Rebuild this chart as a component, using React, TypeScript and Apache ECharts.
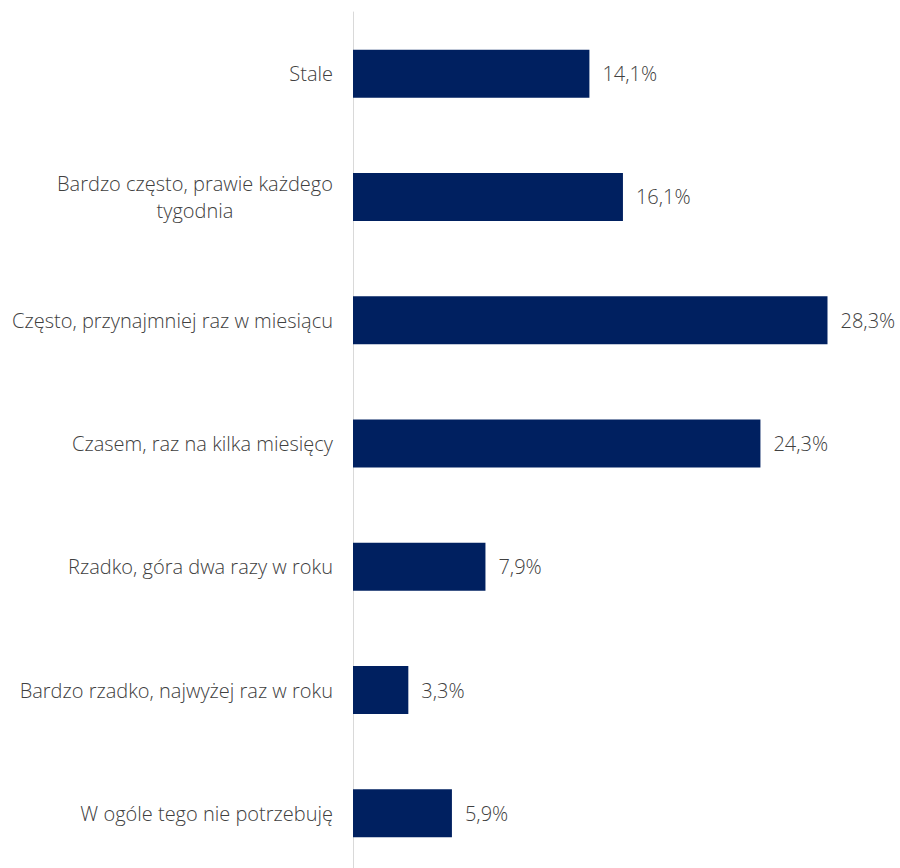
import React, { useEffect, useRef } from "react";
import * as echarts from "echarts";

const categories = [
  "Stale",
  "Bardzo często, prawie każdego\ntygodnia",
  "Często, przynajmniej raz w miesiącu",
  "Czasem, raz na kilka miesięcy",
  "Rzadko, góra dwa razy w roku",
  "Bardzo rzadko, najwyżej raz w roku",
  "W ogóle tego nie potrzebuję",
];
const values = [14.1, 16.1, 28.3, 24.3, 7.9, 3.3, 5.9];

const FONT = "'Open Sans'";

export default function App() {
  const ref = useRef<HTMLDivElement>(null);
  useEffect(() => {
    if (!ref.current) return;
    const chart = echarts.init(ref.current, undefined, { renderer: "svg" });
    chart.setOption({
      animation: false,
      grid: {
        left: 353,
        top: 12,
        width: 503,
        height: 863,
        containLabel: false,
        outerBoundsMode: "none",
      },
      xAxis: {
        type: "value",
        min: 0,
        max: 30,
        show: false,
      },
      yAxis: {
        type: "category",
        inverse: true,
        data: categories,
        axisLine: { show: true, lineStyle: { color: "#d9d9d9", width: 1 } },
        axisTick: { show: false },
        axisLabel: {
          margin: 20,
          color: "#404040",
          fontSize: 20,
          fontWeight: 300,
          fontFamily: FONT,
          lineHeight: 27,
          align: "right",
          formatter: (v: string) =>
            v.indexOf("\n") >= 0
              ? v
                  .split("\n")
                  .map((l) => "{c|" + l + "}")
                  .join("\n")
              : v,
          rich: {
            c: {
              width: 276,
              align: "center",
              color: "#404040",
              fontSize: 20,
              fontWeight: 300,
              fontFamily: FONT,
              lineHeight: 27,
            },
          },
        },
      },
      series: [
        {
          type: "bar",
          data: values,
          barWidth: 48,
          itemStyle: { color: "#002060" },
          label: {
            show: true,
            position: "right",
            distance: 13,
            color: "#404040",
            fontSize: 20,
            fontWeight: 300,
            fontFamily: FONT,
            formatter: (p: any) => p.value.toFixed(1).replace(".", ",") + "%",
          },
        },
      ],
    });
    return () => chart.dispose();
  }, []);
  return (
    <div
      ref={ref}
      style={{ position: "absolute", left: 0, top: 0, width: 900, height: 868 }}
    />
  );
}
